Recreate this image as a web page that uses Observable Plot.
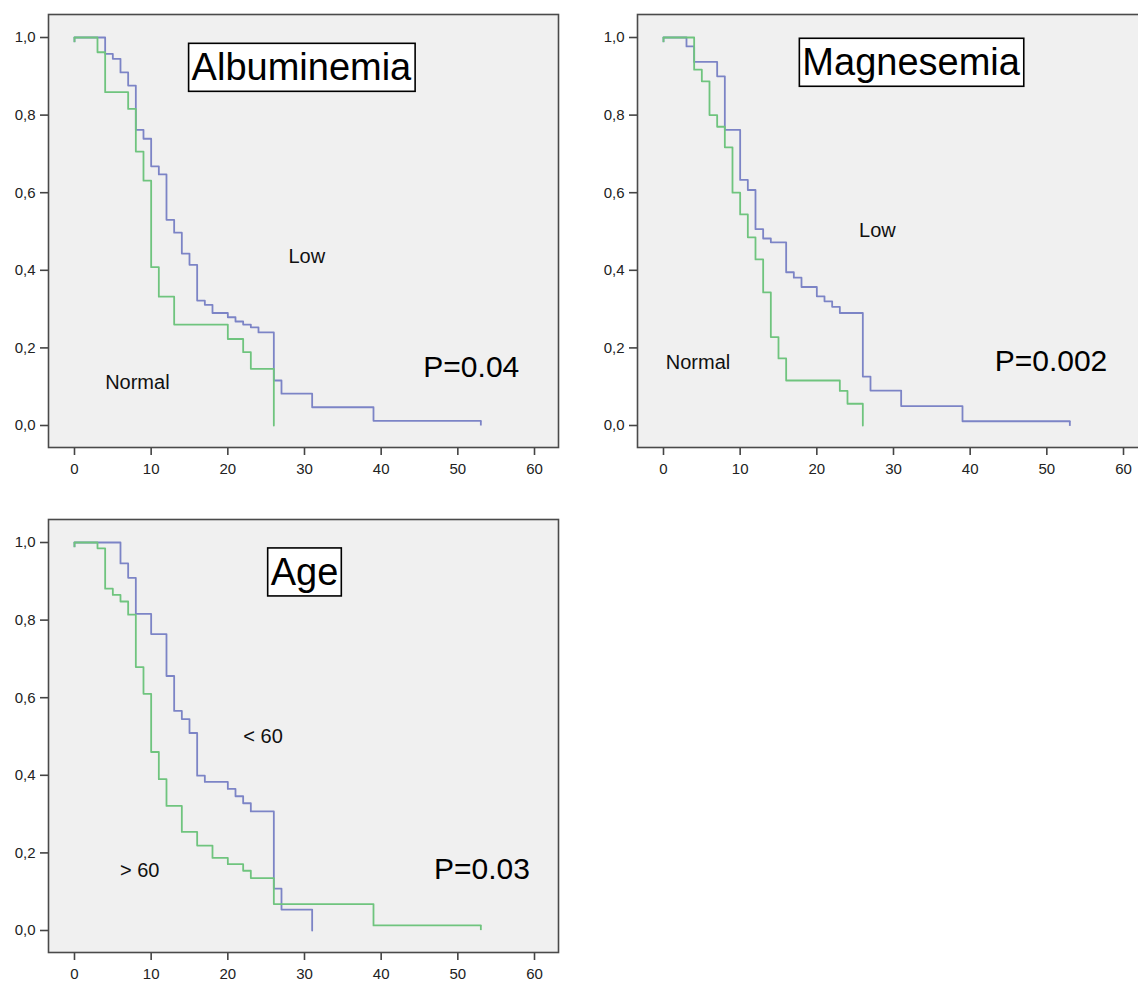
<!DOCTYPE html>
<html><head><meta charset="utf-8">
<script src="https://cdn.jsdelivr.net/npm/d3@7"></script>
<script src="https://cdn.jsdelivr.net/npm/@observablehq/plot@0.6"></script>
<style>
html,body{margin:0;padding:0;background:#fff;overflow:hidden;width:1138px;height:982px}
#wrap{position:relative;width:1138px;height:982px;overflow:hidden}
.panel{position:absolute;width:560px;height:495px}
.panel svg{max-width:none !important;width:560px;height:495px}
</style></head><body><div id="wrap"></div>
<script>
// ---------- tick values ----------
const xTicks = [0, 10, 20, 30, 40, 50, 60];
const yTicks = [0, 0.2, 0.4, 0.6, 0.8, 1.0];

// ---------- Albuminemia ----------
const albLowTime = [0, 4, 5, 6, 7, 8, 9, 10, 11, 12, 13, 14, 15, 16, 17, 18, 20, 21, 22, 23, 24, 26, 27, 31, 39, 53];
const albLowSurv = [1, 0.958, 0.945, 0.91, 0.876, 0.762, 0.739, 0.668, 0.647, 0.53, 0.497, 0.443, 0.414, 0.322, 0.311, 0.29, 0.279, 0.268, 0.26, 0.253, 0.24, 0.116, 0.082, 0.047, 0.012, 0.012];
const albLowCensor = [0, 53];
const albNormTime = [0, 3, 4, 7, 8, 9, 10, 11, 13, 20, 22, 23, 26];
const albNormSurv = [1, 0.962, 0.859, 0.816, 0.706, 0.631, 0.408, 0.332, 0.26, 0.223, 0.189, 0.146, 0];
const albNormCensor = [0];

// ---------- Magnesemia ----------
const magLowTime = [0, 3, 4, 7, 8, 10, 11, 12, 13, 14, 16, 17, 18, 20, 21, 22, 23, 26, 27, 31, 39, 53];
const magLowSurv = [1, 0.977, 0.937, 0.9, 0.762, 0.633, 0.607, 0.506, 0.482, 0.472, 0.395, 0.381, 0.357, 0.333, 0.32, 0.306, 0.29, 0.126, 0.09, 0.05, 0.011, 0.011];
const magLowCensor = [0, 53];
const magNormTime = [0, 4, 5, 6, 7, 8, 9, 10, 11, 12, 13, 14, 15, 16, 23, 24, 26];
const magNormSurv = [1, 0.917, 0.887, 0.8, 0.77, 0.717, 0.6, 0.544, 0.485, 0.428, 0.343, 0.228, 0.173, 0.116, 0.089, 0.056, 0];
const magNormCensor = [0];

// ---------- Age ----------
const ageYoungTime = [0, 6, 7, 8, 10, 12, 13, 14, 15, 16, 17, 20, 21, 22, 23, 26, 27, 31];
const ageYoungSurv = [1, 0.946, 0.909, 0.816, 0.764, 0.656, 0.566, 0.545, 0.509, 0.399, 0.383, 0.365, 0.346, 0.328, 0.307, 0.108, 0.054, 0];
const ageYoungCensor = [0];
const ageOldTime = [0, 3, 4, 5, 6, 7, 8, 9, 10, 11, 12, 14, 16, 18, 20, 22, 23, 26, 39, 53];
const ageOldSurv = [1, 0.985, 0.881, 0.865, 0.848, 0.814, 0.679, 0.61, 0.46, 0.39, 0.321, 0.254, 0.219, 0.187, 0.171, 0.154, 0.135, 0.068, 0.013, 0.013];
const ageOldCensor = [0, 53];

// ---------- texts ----------
const titles = ["Albuminemia", "Magnesemia", "Age"];
const pValues = ["P=0.04", "P=0.002", "P=0.03"];
const groupLabels = [["Low", "Normal"], ["Low", "Normal"], ["< 60", "> 60"]];

// ---------- style ----------
const BLUE = "#7c84c6";
const GREEN = "#6fc47e";
const FONT = "'Liberation Sans', Arial, sans-serif";

function toRows(times, survs) { return times.map((t, i) => ({t, s: survs[i]})); }
function censorRows(ct, times, survs) {
  return ct.map(c => { const i = times.indexOf(c); return {t: c, s: survs[i]}; });
}

function makePanel(cfg) {
  const blueRows = toRows(cfg.blueT, cfg.blueS);
  const greenRows = toRows(cfg.greenT, cfg.greenS);
  const blueC = censorRows(cfg.blueC, cfg.blueT, cfg.blueS);
  const greenC = censorRows(cfg.greenC, cfg.greenT, cfg.greenS);
  const svg = Plot.plot({
    width: 560, height: 495,
    marginLeft: 48, marginRight: 2, marginTop: 14, marginBottom: 48,
    x: {domain: [-3.39, 63.13]},
    y: {domain: [-0.0567, 1.0593]},
    style: {fontFamily: FONT, fontSize: "15px", color: "#222", background: "transparent", overflow: "visible", maxWidth: "none"},
    marks: [
      Plot.frame({fill: "#f0f0f0", stroke: "none"}),
      Plot.axisX({ticks: xTicks, tickSize: 8, tickPadding: 8, label: null, stroke: "#444", strokeWidth: 1.6, fontSize: 15}),
      Plot.axisY({ticks: yTicks, tickSize: 8, tickPadding: 5, label: null, stroke: "#444", strokeWidth: 1.6, fontSize: 15,
        tickFormat: d => d.toFixed(1).replace(".", ",")}),
      Plot.line(blueRows, {x: "t", y: "s", curve: "step-after", stroke: BLUE, strokeWidth: 1.8}),
      Plot.link(blueC, {x1: "t", x2: "t", y1: "s", y2: d => d.s - 0.012, stroke: BLUE, strokeWidth: 1.8}),
      Plot.line(greenRows, {x: "t", y: "s", curve: "step-after", stroke: GREEN, strokeWidth: 1.8}),
      Plot.link(greenC, {x1: "t", x2: "t", y1: "s", y2: d => d.s - 0.012, stroke: GREEN, strokeWidth: 1.8}),
      Plot.text([cfg.title], {x: cfg.titleX, y: cfg.titleY, text: d => d, fontSize: 38, fill: "#000"}),
      Plot.text([cfg.labels[0]], {x: cfg.lab1X, y: cfg.lab1Y, text: d => d, fontSize: 20, fill: "#111"}),
      Plot.text([cfg.labels[1]], {x: cfg.lab2X, y: cfg.lab2Y, text: d => d, fontSize: 20, fill: "#111"}),
      Plot.text([cfg.p], {x: cfg.pX, y: cfg.pY, text: d => d, fontSize: 30, textAnchor: "start", fill: "#000"}),
      Plot.frame({stroke: "#4a4a4a", strokeWidth: 1.6})
    ]
  });
  svg.style.maxWidth = "none";
  const div = document.createElement("div");
  div.className = "panel";
  div.style.left = cfg.left + "px";
  div.style.top = cfg.top + "px";
  div.appendChild(svg);
  document.getElementById("wrap").appendChild(div);
  // white box behind the title text
  const t = Array.from(svg.querySelectorAll("text")).find(e => e.textContent === cfg.title);
  if (t) {
    const b = t.getBBox();
    const padX = 3, padY = 3;
    const r = document.createElementNS("http://www.w3.org/2000/svg", "rect");
    r.setAttribute("x", b.x - padX);
    r.setAttribute("y", b.y - padY);
    r.setAttribute("width", b.width + 2 * padX);
    r.setAttribute("height", b.height + 2 * padY);
    r.setAttribute("fill", "#fff");
    r.setAttribute("stroke", "#000");
    r.setAttribute("stroke-width", "1.6");
    const tr = t.getAttribute("transform");
    if (tr) r.setAttribute("transform", tr);
    t.parentNode.insertBefore(r, t);
  }
}

makePanel({left: 0, top: 0,
  blueT: albLowTime, blueS: albLowSurv, blueC: albLowCensor,
  greenT: albNormTime, greenS: albNormSurv, greenC: albNormCensor,
  title: titles[0], titleX: 29.6, titleY: 0.921,
  labels: groupLabels[0], lab1X: 30.3, lab1Y: 0.435, lab2X: 8.2, lab2Y: 0.11,
  p: pValues[0], pX: 45.5, pY: 0.1485});

makePanel({left: 589, top: 0,
  blueT: magLowTime, blueS: magLowSurv, blueC: magLowCensor,
  greenT: magNormTime, greenS: magNormSurv, greenC: magNormCensor,
  title: titles[1], titleX: 32.3, titleY: 0.934,
  labels: groupLabels[1], lab1X: 27.9, lab1Y: 0.502, lab2X: 4.5, lab2Y: 0.162,
  p: pValues[1], pX: 43.2, pY: 0.164});

makePanel({left: 0, top: 505,
  blueT: ageYoungTime, blueS: ageYoungSurv, blueC: ageYoungCensor,
  greenT: ageOldTime, greenS: ageOldSurv, greenC: ageOldCensor,
  title: titles[2], titleX: 30.0, titleY: 0.922,
  labels: groupLabels[2], lab1X: 24.6, lab1Y: 0.501, lab2X: 8.5, lab2Y: 0.154,
  p: pValues[2], pX: 46.9, pY: 0.1575});
</script></body></html>
